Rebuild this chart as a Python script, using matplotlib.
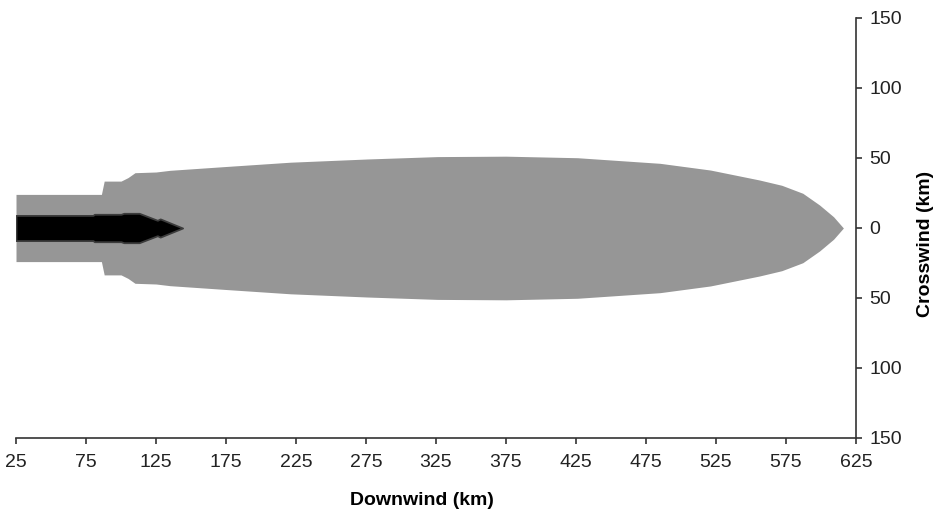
import matplotlib.pyplot as plt
import numpy as np

plt.rcParams['font.family'] = ['Liberation Sans', 'DejaVu Sans']

# outer (gray) plume: downwind distance vs crosswind half width, km
outer_x = [25, 86, 88, 100, 105, 110, 125, 135, 176, 221, 276, 326, 375,
           426, 485, 521, 556, 572, 587, 599, 609, 616]
outer_w = [24, 24, 33.5, 33.5, 36, 39.5, 40, 41.2, 44, 47, 49.3, 51, 51.3,
           50.2, 46.2, 41.4, 34.3, 30.5, 24.8, 16.4, 8, 0]

# inner (black) plume
inner_x = [25, 80, 81, 100, 102, 113, 126, 128, 144]
inner_w = [9, 9, 9.8, 9.8, 10.5, 10.5, 5.5, 6.5, 0]

x_ticks = list(range(25, 626, 50))
y_ticks = [-150, -100, -50, 0, 50, 100, 150]

fig = plt.figure(figsize=(9.34, 5.15), dpi=100)
ax = fig.add_axes([16 / 934, 77 / 515, 840 / 934, 420 / 515])

ox = np.array(outer_x)
ow = np.array(outer_w)
ax.fill_between(ox, -ow, ow, color='#969696', linewidth=0)

ix = np.array(inner_x)
iw = np.array(inner_w)
ax.fill_between(ix, -iw, iw, facecolor='black', edgecolor='#3c3c3c', linewidth=1.3)

ax.set_xlim(25, 625)
ax.set_ylim(-150, 150)

for s in ['top', 'left']:
    ax.spines[s].set_visible(False)
for s in ['bottom', 'right']:
    ax.spines[s].set_color('#333333')
    ax.spines[s].set_linewidth(1.2)

ax.set_xticks(x_ticks)
ax.set_xticklabels([str(v) for v in x_ticks])
ax.set_yticks(y_ticks)
ax.set_yticklabels([str(abs(v)) for v in y_ticks])
ax.yaxis.tick_right()
ax.yaxis.set_label_position('right')
ax.tick_params(axis='both', direction='out', length=4.5, width=1.2,
               color='#333333', labelsize=14, labelcolor='#222222')
ax.tick_params(axis='x', pad=7)
ax.tick_params(axis='y', pad=5)

ax.set_xlabel('Downwind (km)', fontsize=14, fontweight='bold', labelpad=15)
ax.set_ylabel('Crosswind (km)', fontsize=14, fontweight='bold', labelpad=11)
ax.xaxis.label.set_x(0.483)
ax.yaxis.label.set_y(0.462)

fig.savefig('out.png', dpi=100)
